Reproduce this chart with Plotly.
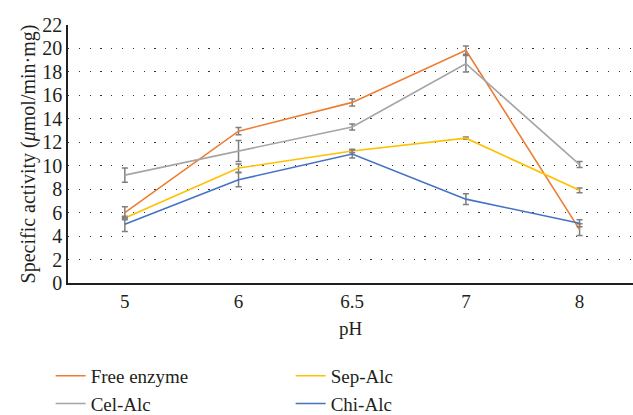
import plotly.graph_objects as go

ph = ["5", "6", "6.5", "7", "8"]
free_enzyme = [6.0, 12.95, 15.4, 19.85, 4.55]
free_err = [0.5, 0.3, 0.3, 0.35, 0.5]
cel_alc = [9.2, 11.25, 13.3, 18.7, 10.1]
cel_err = [0.6, 0.9, 0.25, 0.7, 0.25]
sep_alc = [5.55, 9.8, 11.25, 12.35, 7.9]
sep_err = [0.15, 0.35, 0.15, 0.1, 0.2]
chi_alc = [5.0, 8.8, 11.0, 7.15, 5.1]
chi_err = [0.6, 0.6, 0.35, 0.45, 0.3]

series = [
    ("Free enzyme", free_enzyme, free_err, "#ED7D31"),
    ("Sep-Alc", sep_alc, sep_err, "#FFC000"),
    ("Cel-Alc", cel_alc, cel_err, "#A5A5A5"),
    ("Chi-Alc", chi_alc, chi_err, "#4472C4"),
]

FONT = "Liberation Serif"
TXT = "#231f20"

fig = go.Figure()
for name, vals, errs, col in series:
    fig.add_trace(go.Scatter(
        x=ph, y=vals, name=name, mode="lines",
        line=dict(color=col, width=1.6),
        error_y=dict(type="data", array=errs, visible=True,
                     color="#7f7f7f", thickness=1.5, width=3),
    ))

fig.update_layout(
    width=633, height=415,
    margin=dict(l=68, r=0, t=25, b=132),
    paper_bgcolor="white", plot_bgcolor="white",
    font=dict(family=FONT, size=19, color=TXT),
    showlegend=True,
    legend=dict(
        orientation="h", xref="container", yref="container",
        x=0.08, y=0.14, xanchor="left", yanchor="top",
        entrywidth=195, entrywidthmode="pixels",
        font=dict(family=FONT, size=19, color=TXT),
        bgcolor="rgba(0,0,0,0)",
    ),
    xaxis=dict(
        type="category", range=[-0.5, 4.47],
        showline=True, linecolor="#231f20", linewidth=1.5,
        showgrid=False, ticks="", zeroline=False,
        title=dict(text="pH", font=dict(size=19), standoff=11),
        tickfont=dict(size=19),
    ),
    yaxis=dict(
        range=[0, 22], dtick=2, tick0=0,
        showline=True, linecolor="#231f20", linewidth=1.5,
        showgrid=True, gridcolor="#333333", gridwidth=1.2,
        griddash="1.2px,9.6px",
        ticks="", zeroline=False,
        title=dict(text="Specific activity (<i>μ</i>mol/min·mg)", font=dict(size=20), standoff=1),
        tickfont=dict(size=20),
    ),
)

fig.write_html("out.html")
